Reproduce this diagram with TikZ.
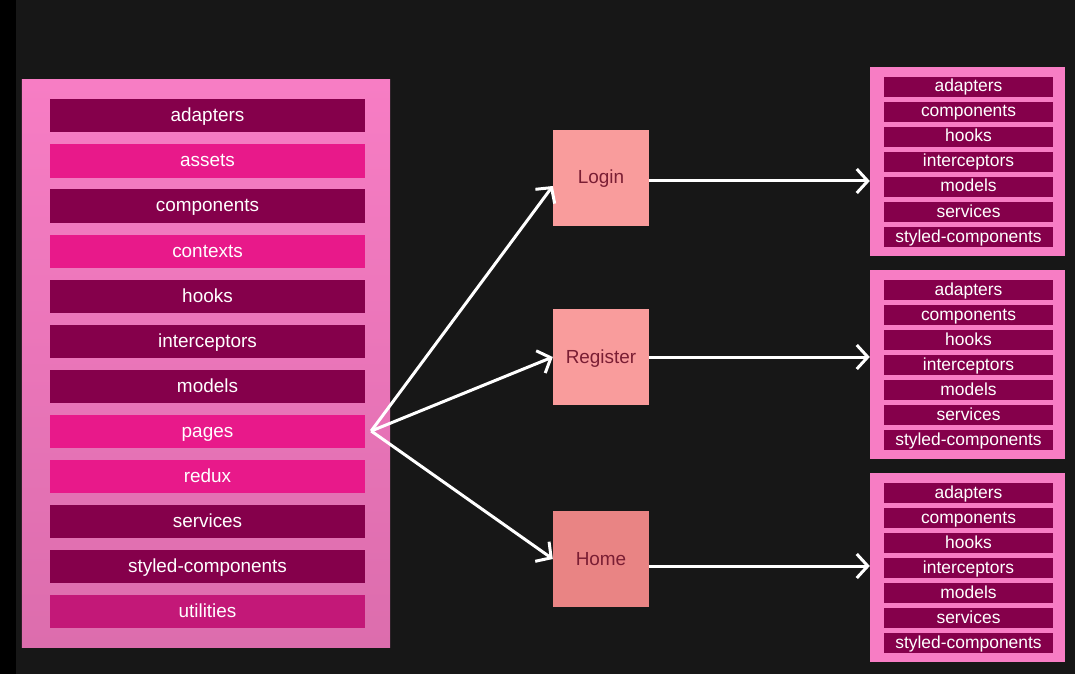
\documentclass[tikz,border=0pt]{standalone}
\usepackage{fontspec}
\setmainfont{Liberation Sans}
\usetikzlibrary{arrows.meta,positioning}
\definecolor{bgdark}{HTML}{171717}
\definecolor{boxpink}{HTML}{F77DC4}
\definecolor{boxpinklow}{HTML}{DC6DAD}
\definecolor{dk}{HTML}{85004B}
\definecolor{br}{HTML}{E8198A}
\definecolor{ut}{HTML}{C31878}
\definecolor{salmon}{HTML}{F99C9C}
\definecolor{salmonlow}{HTML}{E98484}
\definecolor{maroon}{HTML}{7A1E34}
\tikzset{
  bar/.style={minimum width=315bp,minimum height=33bp,inner sep=0pt,text height=15bp,text depth=3bp,text=white,font=\fontsize{19}{19}\selectfont},
  sbar/.style={fill=dk,minimum width=169bp,minimum height=20bp,inner sep=0pt,text height=13bp,text depth=3bp,text=white,font=\fontsize{17.5}{17.5}\selectfont},
  pagebox/.style={minimum width=96bp,minimum height=96bp,inner sep=0pt,text height=15bp,text depth=3bp,text=maroon,font=\fontsize{19}{19}\selectfont},
  link/.style={white,line width=3bp,-{Straight Barb[length=11bp,width=24bp,line width=3bp]}}
}
\begin{document}
\begin{tikzpicture}[x=1bp,y=-1bp]
\fill[bgdark](0,0) rectangle (1075,674);
\fill[black](0,0) rectangle (16,674);
\useasboundingbox (0,0) rectangle (1075,674);
\node[minimum width=368bp,minimum height=567bp,top color=boxpink,bottom color=boxpinklow] (src) at (206,363.5) {};
\foreach \t/\c [count=\i] in {adapters/dk,assets/br,components/dk,contexts/br,hooks/dk,interceptors/dk,models/dk,pages/br,redux/br,services/dk,styled-components/dk,utilities/ut}
  \node[bar,fill=\c] (L\i) at (207.5,71+45*\i) {\t};
\coordinate (fork) at ([xshift=6bp]L8.east);
\node[pagebox,fill=salmon] (login) at (601,178) {Login};
\node[pagebox,fill=salmon] (register) at (601,357) {Register};
\node[pagebox,fill=salmonlow] (home) at (601,559) {Home};
\foreach \p/\yt in {1/67,2/270,3/473}{
  \node[fill=boxpink,minimum width=195bp,minimum height=189bp,inner sep=0pt] (P\p) at (967.5,\yt+94.5) {};
  \foreach \t [count=\i] in {adapters,components,hooks,interceptors,models,services,styled-components}
    \node[sbar] (P\p\i) at (968.5,\yt+20+25*\i-25) {\t};
}
\draw[link] (fork) -- ([yshift=-8bp]login.west);
\draw[link] (fork) -- (register.west);
\draw[link] (fork) -- (home.west);
\draw[link] ([yshift=-3bp]login.east) -- ([yshift=-3bp]login.east -| P1.west);
\draw[link] (register.east) -- (register.east -| P2.west);
\draw[link] ([yshift=-7bp]home.east) -- ([yshift=-7bp]home.east -| P3.west);
\end{tikzpicture}
\end{document}
